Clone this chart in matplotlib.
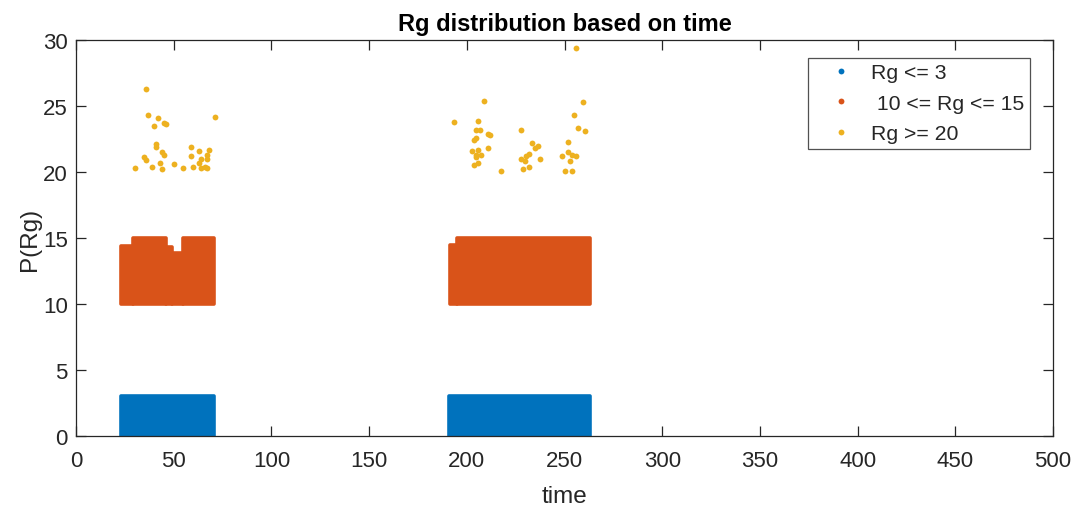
import matplotlib
matplotlib.use("Agg")
import matplotlib.pyplot as plt
from matplotlib.lines import Line2D

plt.rcParams['font.family'] = ['Liberation Sans', 'DejaVu Sans']

# ---- data ----
# dense regions (time_start, time_end, Rg_min, Rg_max)
blue_t0 = [23.0, 191.0]
blue_t1 = [70.5, 263.0]
blue_lo = [0.0, 0.0]
blue_hi = [3.0, 3.0]

orange_t0 = [23.0, 29.0, 46.0, 49.0, 55.0, 191.5, 195.0]
orange_t1 = [29.0, 46.0, 49.0, 55.0, 70.5, 195.0, 263.0]
orange_lo = [10.0, 10.0, 10.0, 10.0, 10.0, 10.0, 10.0]
orange_hi = [14.4, 15.0, 14.3, 13.9, 15.0, 14.5, 15.0]

# sparse points Rg >= 20
yellow_time = [36.0, 36.8, 42.0, 45.0, 46.1, 39.9, 71.0, 40.9, 40.9, 44.0,
               45.0, 34.8, 35.8, 43.0, 38.9, 30.0, 44.0, 58.8, 62.9, 67.9,
               58.8, 66.9, 63.8, 66.9, 62.9, 60.0, 50.0, 55.0, 63.8, 65.9,
               66.9,
               255.7, 208.6, 193.6, 205.5, 204.5, 206.6, 204.5, 203.6, 210.7, 211.7,
               210.7, 202.5, 205.7, 204.9, 207.4, 204.5, 205.7, 203.6, 217.5,
               227.6, 233.6, 236.2, 235.0, 231.6, 230.5, 227.5, 237.7, 229.7, 231.6,
               228.6,
               259.6, 254.7, 256.7, 260.6, 251.6, 251.6, 248.7, 253.6, 255.7, 252.6,
               250.5, 253.6]
yellow_rg = [26.3, 24.35, 24.1, 23.7, 23.6, 23.5, 24.2, 22.1, 21.9, 21.5,
             21.3, 21.1, 20.9, 20.7, 20.4, 20.3, 20.2, 21.9, 21.6, 21.7,
             21.2, 21.3, 21.0, 21.0, 20.7, 20.4, 20.6, 20.3, 20.3, 20.35,
             20.3,
             29.4, 25.4, 23.8, 23.9, 23.2, 23.2, 22.6, 22.4, 22.9, 22.8,
             21.8, 21.6, 21.7, 21.3, 21.3, 21.1, 20.7, 20.5, 20.1,
             23.2, 22.2, 22.0, 21.8, 21.4, 21.2, 21.0, 21.0, 20.8, 20.35,
             20.2,
             25.3, 24.3, 23.3, 23.1, 22.3, 21.5, 21.2, 21.3, 21.2, 20.8,
             20.1, 20.1]

labels = ['Rg <= 3', ' 10 <= Rg <= 15', 'Rg >= 20']
xticks = [0, 50, 100, 150, 200, 250, 300, 350, 400, 450, 500]
yticks = [0, 5, 10, 15, 20, 25, 30]

c_blue = '#0072BD'
c_orange = '#D95319'
c_yellow = '#EDB120'
axc = '#262626'

fig = plt.figure(figsize=(10.75, 5.06), dpi=100)
ax = fig.add_axes([76 / 1075, 69 / 506, 977 / 1075, 396 / 506])

for t0s, t1s, los, his, col in [(blue_t0, blue_t1, blue_lo, blue_hi, c_blue),
                                (orange_t0, orange_t1, orange_lo, orange_hi, c_orange)]:
    ax.bar([a for a in t0s], [h - l for h, l in zip(his, los)],
           width=[b - a for a, b in zip(t0s, t1s)], bottom=los, align='edge',
           color=col, edgecolor=col, linewidth=2.6, joinstyle='round', zorder=2)

ax.plot(yellow_time, yellow_rg, linestyle='none', marker='o', markersize=4.2,
        markeredgewidth=0, color=c_yellow, zorder=3)

ax.set_xlim(0, 500)
ax.set_ylim(0, 30)
ax.set_xticks(xticks)
ax.set_yticks(yticks)
ax.tick_params(direction='in', length=7, width=0.9, colors=axc, labelsize=16,
               top=True, right=True)
ax.tick_params(axis='x', pad=10)
ax.tick_params(axis='y', pad=6)
for s in ax.spines.values():
    s.set_color(axc)
    s.set_linewidth(0.9)

ax.set_title('Rg distribution based on time', fontsize=17, fontweight='bold',
             color='black', pad=7)
ax.set_xlabel('time', fontsize=17.5, color=axc, labelpad=10)
ax.set_ylabel('P(Rg)', fontsize=17.5, color=axc, labelpad=1)

handles = [Line2D([], [], linestyle='none', marker='o', markersize=4.2,
                  markeredgewidth=0, color=c) for c in (c_blue, c_orange, c_yellow)]
leg = ax.legend(handles, labels, loc='upper right', bbox_to_anchor=(0.9765, 0.9545),
                fontsize=15.3, frameon=True, fancybox=False, edgecolor=axc,
                handlelength=2.6, handletextpad=0.15, borderpad=0.25,
                labelspacing=0.54, borderaxespad=0.0)
leg.get_frame().set_linewidth(0.9)
for t in leg.get_texts():
    t.set_color(axc)

fig.savefig('out.png', dpi=100, facecolor='white')
